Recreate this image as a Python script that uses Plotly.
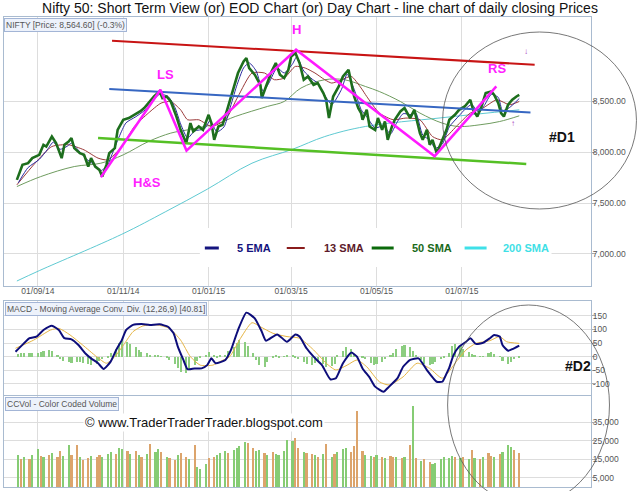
import pandas as pd
import plotly.graph_objects as go

# ---------------- price panel ----------------
close_dates = [
    '2014-08-17', '2014-08-21', '2014-08-25', '2014-08-28', '2014-09-02', '2014-09-05', '2014-09-07', '2014-09-11', '2014-09-14', '2014-09-18',
    '2014-09-20', '2014-09-23', '2014-09-25', '2014-09-27', '2014-10-01', '2014-10-04', '2014-10-07', '2014-10-09', '2014-10-12', '2014-10-15',
    '2014-10-17', '2014-10-20', '2014-10-22', '2014-10-26', '2014-10-28', '2014-11-01', '2014-11-05', '2014-11-09', '2014-11-13', '2014-11-16',
    '2014-11-20', '2014-11-23', '2014-11-27', '2014-11-29', '2014-12-02', '2014-12-05', '2014-12-09', '2014-12-12', '2014-12-16', '2014-12-19',
    '2014-12-21', '2014-12-25', '2014-12-28', '2015-01-01', '2015-01-03', '2015-01-05', '2015-01-08', '2015-01-11', '2015-01-15', '2015-01-19',
    '2015-01-22', '2015-01-26', '2015-01-28', '2015-01-30', '2015-02-03', '2015-02-07', '2015-02-08', '2015-02-11', '2015-02-15', '2015-02-18',
    '2015-02-21', '2015-02-24', '2015-02-27', '2015-03-01', '2015-03-04', '2015-03-07', '2015-03-10', '2015-03-13', '2015-03-17', '2015-03-20',
    '2015-03-24', '2015-03-26', '2015-03-28', '2015-03-31', '2015-04-04', '2015-04-07', '2015-04-11', '2015-04-13', '2015-04-15', '2015-04-18',
    '2015-04-20', '2015-04-21', '2015-04-24', '2015-04-26', '2015-04-30', '2015-05-02', '2015-05-05', '2015-05-07', '2015-05-09', '2015-05-12',
    '2015-05-14', '2015-05-18', '2015-05-21', '2015-05-25', '2015-05-28', '2015-06-01', '2015-06-03', '2015-06-06', '2015-06-08', '2015-06-10',
    '2015-06-13', '2015-06-16', '2015-06-20', '2015-06-22', '2015-06-26', '2015-06-29', '2015-07-03', '2015-07-07', '2015-07-09', '2015-07-12',
    '2015-07-15', '2015-07-18', '2015-07-22', '2015-07-24', '2015-07-27', '2015-07-29', '2015-07-31', '2015-08-03', '2015-08-06', '2015-08-09',
    '2015-08-11',
]
close_vals = [
    7729, 7877, 7893, 7943, 7975, 8074, 8057, 8155, 8090, 7943,
    8074, 8106, 8140, 8041, 7992, 7975, 7860, 7943, 7860, 7827,
    7761, 7877, 7992, 8041, 8221, 8320, 8337, 8369, 8402, 8435,
    8500, 8549, 8598, 8533, 8549, 8500, 8352, 8221, 8090, 8287,
    8205, 8254, 8221, 8369, 8287, 8123, 8254, 8271, 8451, 8648,
    8780, 8894, 8927, 8829, 8763, 8664, 8533, 8648, 8795, 8878,
    8763, 8730, 8812, 8943, 8977, 8878, 8714, 8746, 8664, 8681,
    8583, 8517, 8337, 8549, 8648, 8746, 8812, 8681, 8549, 8435,
    8386, 8320, 8418, 8254, 8221, 8337, 8221, 8303, 8123, 8254,
    8320, 8402, 8435, 8337, 8418, 8189, 8123, 8221, 8074, 8123,
    7992, 8090, 8221, 8320, 8369, 8418, 8451, 8517, 8418, 8352,
    8451, 8583, 8598, 8566, 8484, 8386, 8352, 8468, 8517, 8549,
    8565,
]

ema5_dates = [
    '2014-08-18', '2014-08-25', '2014-09-02', '2014-09-08', '2014-09-12', '2014-09-17', '2014-09-22', '2014-09-25', '2014-09-30',
    '2014-10-06', '2014-10-10', '2014-10-16', '2014-10-21', '2014-10-24', '2014-10-29', '2014-11-03', '2014-11-10', '2014-11-17',
    '2014-11-21', '2014-11-27', '2014-12-03', '2014-12-08', '2014-12-12', '2014-12-17', '2014-12-22', '2014-12-29', '2015-01-02',
    '2015-01-07', '2015-01-12', '2015-01-16', '2015-01-21', '2015-01-26', '2015-01-30', '2015-02-04', '2015-02-09', '2015-02-13',
    '2015-02-19', '2015-02-24', '2015-03-02', '2015-03-05', '2015-03-10', '2015-03-16', '2015-03-20', '2015-03-25', '2015-03-30',
    '2015-04-06', '2015-04-10', '2015-04-15', '2015-04-20', '2015-04-24', '2015-04-30', '2015-05-06', '2015-05-11', '2015-05-15',
    '2015-05-20', '2015-05-26', '2015-05-29', '2015-06-03', '2015-06-08', '2015-06-12', '2015-06-17', '2015-06-22', '2015-06-29',
    '2015-07-03', '2015-07-08', '2015-07-13', '2015-07-17', '2015-07-22', '2015-07-27', '2015-07-30', '2015-08-04', '2015-08-11',
]
ema5_vals = [
    7700, 7850, 7930, 8030, 8100, 8030, 8060, 8090, 8020,
    7930, 7890, 7820, 7880, 7980, 8150, 8290, 8350, 8420,
    8490, 8570, 8550, 8440, 8280, 8140, 8210, 8230, 8310,
    8200, 8250, 8420, 8650, 8830, 8880, 8800, 8600, 8680,
    8830, 8780, 8870, 8940, 8800, 8720, 8680, 8560, 8470,
    8620, 8770, 8620, 8420, 8350, 8240, 8260, 8180, 8280,
    8380, 8370, 8390, 8170, 8120, 8040, 8080, 8250, 8360,
    8420, 8470, 8390, 8460, 8570, 8540, 8410, 8440, 8530,
]

sma13_dates = [
    '2014-08-17', '2014-08-30', '2014-09-11', '2014-09-23', '2014-10-04', '2014-10-14', '2014-10-21', '2014-10-31', '2014-11-09',
    '2014-11-19', '2014-11-28', '2014-12-05', '2014-12-12', '2014-12-17', '2014-12-25', '2015-01-03', '2015-01-13', '2015-01-22',
    '2015-02-01', '2015-02-10', '2015-02-17', '2015-02-24', '2015-03-04', '2015-03-11', '2015-03-18', '2015-03-25', '2015-03-30',
    '2015-04-06', '2015-04-13', '2015-04-20', '2015-04-24', '2015-05-03', '2015-05-13', '2015-05-22', '2015-06-01', '2015-06-10',
    '2015-06-17', '2015-06-27', '2015-07-07', '2015-07-16', '2015-07-26', '2015-08-04', '2015-08-11',
]
sma13_vals = [
    7680, 7893, 8057, 8074, 8024, 7943, 7926, 8057, 8254,
    8386, 8484, 8500, 8418, 8320, 8320, 8254, 8320, 8549,
    8780, 8780, 8714, 8730, 8845, 8829, 8780, 8714, 8681,
    8714, 8746, 8632, 8549, 8386, 8320, 8337, 8320, 8155,
    8123, 8254, 8386, 8435, 8517, 8468, 8500,
]

sma50_dates = [
    '2014-08-17', '2014-09-03', '2014-09-27', '2014-10-16', '2014-11-01', '2014-11-19', '2014-12-05', '2014-12-17',
    '2015-01-08', '2015-01-20', '2015-02-12', '2015-02-24', '2015-03-08', '2015-03-25', '2015-04-08', '2015-04-23',
    '2015-05-03', '2015-05-18', '2015-06-01', '2015-06-17', '2015-06-29', '2015-07-14', '2015-07-28', '2015-08-11',
]
sma50_vals = [
    7663, 7761, 7860, 7893, 7975, 8106, 8189, 8221,
    8287, 8352, 8451, 8500, 8632, 8714, 8714, 8648,
    8598, 8500, 8386, 8287, 8254, 8271, 8303, 8359,
]

sma200_dates = ['2014-08-17', '2014-09-02', '2014-10-31', '2014-12-01', '2014-12-31', '2015-02-01',
                '2015-03-02', '2015-03-25', '2015-04-23', '2015-06-16', '2015-08-11']
sma200_vals = [6734, 6836, 7194, 7414, 7637, 7893, 8030, 8155, 8254, 8339, 8418]

# hand-drawn trend lines and the head & shoulders outline
red_line_dates = ['2014-10-24', '2015-08-22']
red_line_vals = [9098, 8861]
blue_line_dates = ['2014-10-22', '2015-08-19']
blue_line_vals = [8622, 8392]
green_line_dates = ['2014-10-14', '2015-08-16']
green_line_vals = [8140, 7886]
hs_dates = ['2014-10-16', '2014-11-27 14:00', '2014-12-16 05:00', '2015-03-04 12:00', '2015-06-11 12:00', '2015-07-25 14:00']
hs_vals = [7754, 8615, 8017, 9009, 7962, 8648]

# ---------------- MACD panel ----------------
macd_dates = [
    '2014-08-16', '2014-08-22', '2014-08-26', '2014-08-31', '2014-09-05', '2014-09-11', '2014-09-16', '2014-09-20', '2014-09-25', '2014-09-30',
    '2014-10-05', '2014-10-09', '2014-10-14', '2014-10-18', '2014-10-23', '2014-10-27', '2014-10-31', '2014-11-03', '2014-11-08', '2014-11-14',
    '2014-11-20', '2014-11-27', '2014-12-03', '2014-12-07', '2014-12-10', '2014-12-14', '2014-12-17', '2014-12-22', '2014-12-27', '2014-12-31',
    '2015-01-03', '2015-01-06', '2015-01-13', '2015-01-17', '2015-01-22', '2015-01-28', '2015-02-03', '2015-02-08', '2015-02-11', '2015-02-19',
    '2015-02-26', '2015-03-04', '2015-03-07', '2015-03-12', '2015-03-17', '2015-03-23', '2015-03-29', '2015-04-02', '2015-04-07', '2015-04-13',
    '2015-04-17', '2015-04-21', '2015-04-26', '2015-04-30', '2015-05-06', '2015-05-10', '2015-05-16', '2015-05-20', '2015-05-25', '2015-05-31',
    '2015-06-06', '2015-06-13', '2015-06-17', '2015-06-20', '2015-06-22', '2015-06-25', '2015-06-29', '2015-07-04', '2015-07-07', '2015-07-11',
    '2015-07-16', '2015-07-21', '2015-07-24', '2015-07-28', '2015-07-30', '2015-08-03', '2015-08-06', '2015-08-11',
]
macd_vals = [
    18, 49, 68, 74, 98, 114, 98, 68, 64, 43,
    12, -6, -24, -45, -18, 25, 61, 98, 117, 120,
    117, 119, 110, 86, 37, -12, -46, -43, -43, -31,
    -6, -24, -12, 25, 98, 162, 141, 92, 59, 82,
    55, 82, 74, 31, 0, -31, -83, -79, -24, 15,
    0, -43, -76, -110, -129, -110, -79, -37, -12, -6,
    -49, -92, -92, -62, -40, 6, 37, 55, 68, 47,
    51, 68, 80, 74, 43, 22, 28, 41,
]
signal_dates = [
    '2014-08-16', '2014-08-29', '2014-09-10', '2014-09-16', '2014-09-24', '2014-10-03', '2014-10-13', '2014-10-20', '2014-10-26', '2014-11-02',
    '2014-11-08', '2014-11-15', '2014-11-25', '2014-12-04', '2014-12-12', '2014-12-19', '2014-12-26', '2015-01-04', '2015-01-09', '2015-01-16',
    '2015-01-23', '2015-02-01', '2015-02-07', '2015-02-16', '2015-02-26', '2015-03-07', '2015-03-17', '2015-03-26', '2015-04-02', '2015-04-10',
    '2015-04-17', '2015-04-24', '2015-05-03', '2015-05-10', '2015-05-20', '2015-05-30', '2015-06-08', '2015-06-17', '2015-06-27', '2015-07-04',
    '2015-07-11', '2015-07-21', '2015-07-28', '2015-08-02', '2015-08-11',
]
signal_vals = [
    31, 61, 98, 104, 80, 43, 0, -24, 0, 49,
    92, 113, 117, 104, 61, 0, -31, -31, -18, 0,
    61, 125, 110, 86, 74, 68, 25, -24, -49, -31,
    -12, -37, -92, -104, -74, -24, -43, -79, -18, 25,
    49, 59, 74, 55, 49,
]
# histogram and volume: one bar every second trading day from 18 Aug 2014
bar_start = '2014-08-18'
hist_vals = [
    10, 14, 15, 15, 12, 14, 18, 22, 25, 20,
    8, -8, -15, -20, -22, -18, -20, -24, -28, -30,
    -26, -15, -8, -3, 12, 30, 52, 61, 55, 45,
    35, 26, 18, 12, 8, 5, 3, 1, -2, -12,
    -28, -42, -55, -61, -45, -30, -15, -5, 8, 18,
    5, -5, 3, 8, 20, 35, 50, 61, 55, 40,
    15, -12, -30, -37, -20, -5, 3, -3, 2, 8,
    6, -3, -10, -20, -28, -31, -22, -15, -25, -37,
    -35, -25, 5, 22, 37, 30, 10, 2, -3, -10,
    -22, -31, -28, -20, -8, 5, 15, 28, 38, 43,
    35, 22, 5, -12, -25, -31, -28, -20, -10, -3,
    15, 40, 45, 38, 28, 18, 10, 4, 1, 2,
    12, 18, 10, 2, -15, -27, -20, -8, -3,
]
volume_k = [
    17.2, 15.4, 16.3, 15.0, 17.5, 20.5, 17.0, 16.0, 17.5, 18.5,
    16.0, 19.5, 17.0, 23.0, 17.5, 22.5, 16.0, 14.5, 15.5, 17.0,
    16.0, 17.5, 16.5, 18.0, 19.0, 18.0, 21.0, 20.5, 19.5, 18.0,
    19.5, 17.5, 16.5, 18.0, 23.5, 19.0, 20.5, 19.0, 16.5, 15.5,
    14.5, 17.5, 18.5, 16.0, 15.0, 22.5, 11.0, 10.0, 12.5, 15.5,
    16.0, 17.5, 18.5, 19.5, 18.5, 20.0, 21.0, 22.0, 24.5, 24.0,
    21.0, 19.5, 20.0, 18.5, 17.5, 19.0, 18.0, 17.5, 19.5, 25.5,
    25.0, 26.5, 21.0, 19.0, 18.5, 18.0, 17.5, 16.5, 18.0, 23.5,
    16.5, 18.0, 19.0, 20.5, 21.0, 19.0, 22.0, 41.0, 19.5, 17.5,
    17.0, 16.0, 17.5, 16.5, 15.5, 17.0, 16.0, 16.5, 15.5, 16.5,
    22.5, 44.0, 15.5, 14.0, 15.0, 13.5, 12.5, 13.0, 15.0, 16.5,
    15.5, 17.0, 16.0, 15.5, 16.5, 15.0, 20.0, 15.5, 15.0, 16.0,
    18.5, 17.0, 16.5, 18.0, 19.0, 22.5, 21.5, 20.0, 18.5,
]
# 1 = up day (green), 0 = down day (orange)
vol_up = [
    1, 0, 1, 0, 1, 1, 0, 1, 0, 1,
    0, 0, 1, 1, 0, 0, 1, 0, 0, 1,
    0, 0, 1, 1, 1, 0, 1, 1, 0, 1,
    0, 1, 0, 1, 0, 1, 1, 0, 1, 0,
    0, 1, 0, 0, 1, 0, 1, 1, 1, 0,
    0, 1, 1, 1, 0, 1, 1, 1, 1, 0,
    0, 1, 1, 0, 1, 0, 1, 1, 1, 1,
    1, 0, 0, 1, 0, 0, 1, 0, 1, 0,
    1, 0, 1, 1, 1, 0, 0, 0, 0, 1,
    1, 0, 1, 0, 1, 0, 0, 1, 0, 1,
    0, 1, 0, 1, 0, 0, 1, 1, 1, 1,
    1, 1, 0, 1, 0, 1, 0, 1, 0, 1,
    0, 0, 1, 0, 1, 1, 1, 0, 0,
]

month_ticks = ['2014-09-01', '2014-11-01', '2015-01-01', '2015-03-01', '2015-05-01', '2015-07-01']
month_labels = ['01/09/14', '01/11/14', '01/01/15', '01/03/15', '01/05/15', '01/07/15']
price_ticks = [7000, 7500, 8000, 8500]
macd_ticks = [-100, -50, 0, 50, 100, 150]
vol_ticks = [5000, 15000, 25000, 35000]

assert len(close_dates) == len(close_vals)
assert len(macd_dates) == len(macd_vals) and len(signal_dates) == len(signal_vals)
assert len(hist_vals) == len(volume_k) == len(vol_up)

bar_dates = pd.date_range(bar_start, periods=len(volume_k), freq='2B')
volume = [v * 1000 for v in volume_k]

# ---------------- figure geometry (pixels of a 640x491 page) ----------------
W, H = 640, 491
L, R, T, B = 4, 591.5, 17, 487
FONT = 'Liberation Sans, Arial, sans-serif'
GRID = '#dddddd'
BORDER = '#a9bbd0'


def px(x):
    return (x - L) / (R - L)


def py(y):
    return (B - y) / (B - T)


fig = go.Figure()

# price panel
fig.add_trace(go.Scatter(x=sma200_dates, y=sma200_vals, mode='lines', line=dict(color='#5fcad2', width=1, shape='spline')))
fig.add_trace(go.Scatter(x=sma50_dates, y=sma50_vals, mode='lines', line=dict(color='#6f9c5f', width=1, shape='spline')))
fig.add_trace(go.Scatter(x=sma13_dates, y=sma13_vals, mode='lines', line=dict(color='#9b3a3a', width=1, shape='spline', smoothing=0.6)))
fig.add_trace(go.Scatter(x=ema5_dates, y=ema5_vals, mode='lines', line=dict(color='#2c2ca0', width=1, shape='spline', smoothing=0.6)))
fig.add_trace(go.Scatter(x=close_dates, y=close_vals, mode='lines', line=dict(color='#1d6e1d', width=2.6)))
fig.add_trace(go.Scatter(x=red_line_dates, y=red_line_vals, mode='lines', line=dict(color='#c81414', width=2)))
fig.add_trace(go.Scatter(x=blue_line_dates, y=blue_line_vals, mode='lines', line=dict(color='#3767c2', width=2)))
fig.add_trace(go.Scatter(x=green_line_dates, y=green_line_vals, mode='lines', line=dict(color='#55c025', width=2.5)))
fig.add_trace(go.Scatter(x=hs_dates, y=hs_vals, mode='lines', line=dict(color='#ff1aff', width=2.5)))

# MACD panel
fig.add_trace(go.Bar(x=bar_dates, y=hist_vals, width=1.5 * 86400000, marker=dict(color='#8ccd80', line_width=0),
                     xaxis='x2', yaxis='y2'))
fig.add_trace(go.Scatter(x=signal_dates, y=signal_vals, mode='lines', line=dict(color='#e6b545', width=1, shape='spline', smoothing=0.6),
                         xaxis='x2', yaxis='y2'))
fig.add_trace(go.Scatter(x=macd_dates, y=macd_vals, mode='lines', line=dict(color='#0d0d7a', width=2, shape='spline', smoothing=0.5),
                         xaxis='x2', yaxis='y2'))

# volume panel
vol_colors = ['#86cc74' if u else '#dca46c' for u in vol_up]
fig.add_trace(go.Bar(x=bar_dates, y=volume, width=1.55 * 86400000, marker=dict(color=vol_colors, line_width=0),
                     xaxis='x3', yaxis='y3'))

x_range = ['2014-08-07 19:12', '2015-10-01 06:00']
xcommon = dict(type='date', range=x_range, tickvals=month_ticks, showgrid=True, gridcolor=GRID, gridwidth=1,
               showline=True, linecolor=BORDER, mirror=True, zeroline=False, ticks='')
ycommon = dict(side='right', showgrid=True, gridcolor=GRID, gridwidth=1, showline=True, linecolor=BORDER, mirror=True,
               zeroline=False, ticks='outside', ticklen=4, tickcolor='#aaaaaa', ticklabelstandoff=-5,
               tickfont=dict(family=FONT, size=8.5, color='#555555'))

fig.update_layout(
    width=W, height=H,
    margin=dict(l=L, r=W - R, t=T, b=H - B),
    paper_bgcolor='white', plot_bgcolor='white',
    showlegend=False,
    font=dict(family=FONT),
    title=dict(text='Nifty 50: Short Term View (or) EOD Chart (or) Day Chart - line chart of daily closing Prices',
               x=0.5, xref='container', xanchor='center', y=1 - 8 / H, yref='container', yanchor='middle',
               font=dict(family=FONT, size=14, color='#111111')),
    xaxis=dict(xcommon, domain=[0, 1], anchor='y', ticktext=month_labels, showticklabels=True, ticklabelstandoff=-3,
               tickfont=dict(family=FONT, size=8.5, color='#555555')),
    xaxis2=dict(xcommon, domain=[0, 1], anchor='y2', showticklabels=False),
    xaxis3=dict(xcommon, domain=[0, 1], anchor='y3', showticklabels=False),
    yaxis=dict(ycommon, domain=[py(286), 1], anchor='x', range=[6685, 9331], tickvals=price_ticks, tickformat=',.2f'),
    yaxis2=dict(ycommon, domain=[py(395), py(301)], anchor='x2', range=[-140.8, 204.8], tickvals=macd_ticks,
                ticktext=[str(t) for t in macd_ticks]),
    yaxis3=dict(ycommon, domain=[0, py(396)], anchor='x3', range=[0, 49300], tickvals=vol_ticks, tickformat=',d'),
    bargap=0,
)

shapes = []
# white box behind the indicator legend (hides the grid)
shapes.append(dict(type='rect', xref='paper', yref='paper', x0=px(200), x1=px(552), y0=py(267), y1=py(228),
                   fillcolor='white', line_width=0, layer='above'))
legend_items = [
    (205, 219, '#14147e', 3),
    (287, 305, '#8a1c1c', 2),
    (372, 394, '#0b6a0b', 3),
    (465, 487, '#3fe0e8', 3),
]
for x0, x1, col, w in legend_items:
    shapes.append(dict(type='line', xref='paper', yref='paper', x0=px(x0), x1=px(x1), y0=py(248), y1=py(248),
                       line=dict(color=col, width=w), layer='above'))
# hand-drawn circles
shapes.append(dict(type='circle', xref='paper', yref='paper', x0=px(443), x1=px(637), y0=py(209), y1=py(32),
                   line=dict(color='#555555', width=0.8), layer='above'))
shapes.append(dict(type='circle', xref='paper', yref='paper', x0=px(448), x1=px(610), y0=py(505), y1=py(305),
                   line=dict(color='#555555', width=0.8), layer='above'))
fig.update_layout(shapes=shapes)


def note(x, y, text, size, color, xanchor='center', yanchor='middle', **kw):
    fig.add_annotation(x=px(x), y=py(y), xref='paper', yref='paper', text=text, showarrow=False,
                       xanchor=xanchor, yanchor=yanchor, font=dict(family=FONT, size=size, color=color), **kw)


# legend texts
note(235, 248, '<b>5 EMA</b>', 11, '#14147e', xanchor='left')
note(322, 248, '<b>13 SMA</b>', 11, '#5c1a2a', xanchor='left')
note(410, 248, '<b>50 SMA</b>', 11, '#1a6a1a', xanchor='left')
note(501, 248, '<b>200 SMA</b>', 11, '#3fdfe6', xanchor='left')

# pattern labels
note(166, 74, '<b>LS</b>', 13, '#ff22ff')
note(296.5, 30, '<b>H</b>', 13, '#ff22ff')
note(497, 68, '<b>RS</b>', 13, '#ff22ff')
note(147, 182.5, '<b>H&S</b>', 13, '#ff22ff')
note(526.7, 51.5, '↓', 8, '#a83cbc')
note(513.3, 123.5, '↑', 8, '#a83cbc')
note(562.5, 137, '<b>#D1</b>', 14, '#111111')
note(578, 366, '<b>#D2</b>', 14, '#111111')

# panel headers
header = dict(bgcolor='#edf2fb', bordercolor='#a3b5d6', borderwidth=1, borderpad=1)
note(4.5, 18, 'NIFTY [Price: 8,564.60] (-0.3%)', 8.5, '#555555', xanchor='left', yanchor='top', **header)
note(5.5, 302, 'MACD - Moving Average Conv. Div. (12,26,9) [40.81]', 8.5, '#555555', xanchor='left', yanchor='top', **header)
note(5.5, 397, 'CCVol - Color Coded Volume', 8.5, '#555555', xanchor='left', yanchor='top', **header)

# watermark
note(83, 422, '© www.TraderTraderTrader.blogspot.com', 13, '#111111', xanchor='left', bgcolor='white')

# the page's default 8px body margin would push the 640x491 figure off the window
fig.write_html("out.html", config={'displayModeBar': False},
               post_script="document.body.style.margin = '0';")
